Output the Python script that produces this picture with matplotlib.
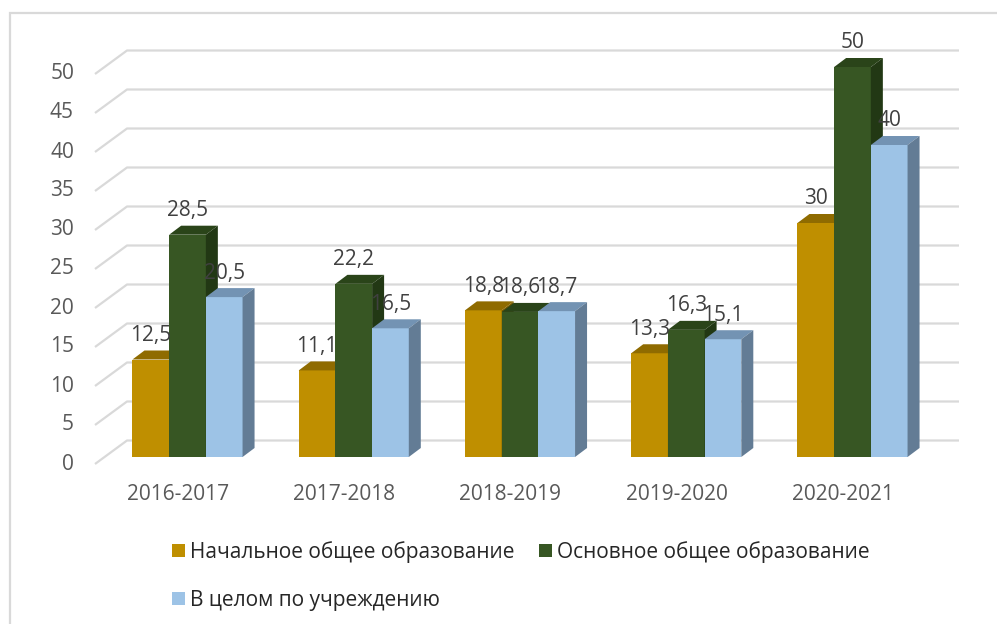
import matplotlib
matplotlib.use('Agg')
import matplotlib.pyplot as plt
from matplotlib.patches import Polygon, Rectangle, Patch

# ---------------- data ----------------
categories = ['2016-2017', '2017-2018', '2018-2019', '2019-2020', '2020-2021']
primary = [12.5, 11.1, 18.8, 13.3, 30]
basic = [28.5, 22.2, 18.6, 16.3, 50]
overall = [20.5, 16.5, 18.7, 15.1, 40]
series_names = ['Начальное общее образование',
                'Основное общее образование',
                'В целом по учреждению']
yticks = [0, 5, 10, 15, 20, 25, 30, 35, 40, 45, 50]

# ---------------- style ----------------
plt.rcParams['font.family'] = ['Open Sans', 'DejaVu Sans']
front_cols = ['#BF8F00', '#375623', '#9DC3E6']
top_cols = ['#8F6B00', '#2A4419', '#7393B3']
side_cols = ['#7A5C00', '#223814', '#637C95']
text_col = '#404040'
grid_col = '#D9D9D9'

W, H = 997, 624
fig = plt.figure(figsize=(W / 100, H / 100), dpi=100)
ax = fig.add_axes([0, 0, 1, 1])
ax.set_axis_off()

# pixel scale of the data axes (bar plane)
ux = 166.25        # px per category
uy = 7.8           # px per value unit
x0px = 187.5       # pixel x of category 0 centre
y0px = 457.0       # pixel y of value 0 on bar plane
ax.set_xlim((0 - x0px) / ux, (W - x0px) / ux)
ax.set_ylim((y0px - H) / uy, y0px / uy)

def dx(p):
    return p / ux

def dy(p):
    return p / uy

# ---- back wall grid with diagonal side-wall lines ----
front_off = (-9.6, -7.0)
back_off = (22.4, 16.5)
grid_right_px = 959
for v in yticks:
    xf = dx(95 - x0px)
    yf = v + dy(front_off[1])
    xb = dx(127 - x0px)
    yb = v + dy(back_off[1])
    xr = dx(grid_right_px - x0px)
    ax.plot([xf, xb, xr], [yf, yb, yb], color=grid_col, lw=1.6,
            solid_capstyle='butt', zorder=1)
    ax.text(dx(74 - x0px), v + dy(front_off[1]), f'{v}', ha='right',
            va='center', fontsize=15, color='#595959')

# ---- 3D-like bars ----
bw = dx(36.7)
depth_x = dx(12)
depth_y = dy(9)
series = [primary, basic, overall]
z = 2
for i, cat in enumerate(categories):
    for s, vals in enumerate(series):
        v = vals[i]
        xl = i + (s - 1.5) * bw
        xr = xl + bw
        ax.bar(xl, v, width=bw, align='edge', color=front_cols[s],
               edgecolor='none', zorder=z)
        top = Polygon([(xl, v), (xr, v), (xr + depth_x, v + depth_y),
                       (xl + depth_x, v + depth_y)], closed=True,
                      facecolor=top_cols[s], edgecolor='none', zorder=z)
        side = Polygon([(xr, 0), (xr + depth_x, depth_y),
                        (xr + depth_x, v + depth_y), (xr, v)], closed=True,
                       facecolor=side_cols[s], edgecolor='none', zorder=z)
        ax.add_patch(top)
        ax.add_patch(side)
        z += 1

# data labels (on top of everything)
for i, cat in enumerate(categories):
    for s, vals in enumerate(series):
        v = vals[i]
        xc = i + (s - 1) * bw
        ax.text(xc, v + dy(24), f'{v:g}'.replace('.', ','), ha='center',
                va='center', fontsize=15, color=text_col, zorder=100)
    ax.text(i + dx(front_off[0]), dy(-37), cat, ha='center', va='center',
            fontsize=15, color='#595959')

# chart border
fig.patches.append(Rectangle((10 / W, -0.1), 1.2, (H - 13) / H + 0.1,
                             transform=fig.transFigure, fill=False,
                             edgecolor=grid_col, lw=1.6))

# legend
handles = [Patch(facecolor=front_cols[k], edgecolor='none', label=series_names[k])
           for k in range(3)]
order = [0, 2, 1]
leg = fig.legend(handles=[handles[k] for k in order], ncol=2, loc='upper left',
                 bbox_to_anchor=(172 / W, 1 - 541 / H), frameon=False,
                 fontsize=15, handlelength=0.6, handleheight=0.6,
                 handletextpad=0.25, columnspacing=1.2, labelspacing=1.3,
                 borderpad=0, borderaxespad=0)
for t in leg.get_texts():
    t.set_color('#262626')

fig.savefig('out.png', dpi=100)
